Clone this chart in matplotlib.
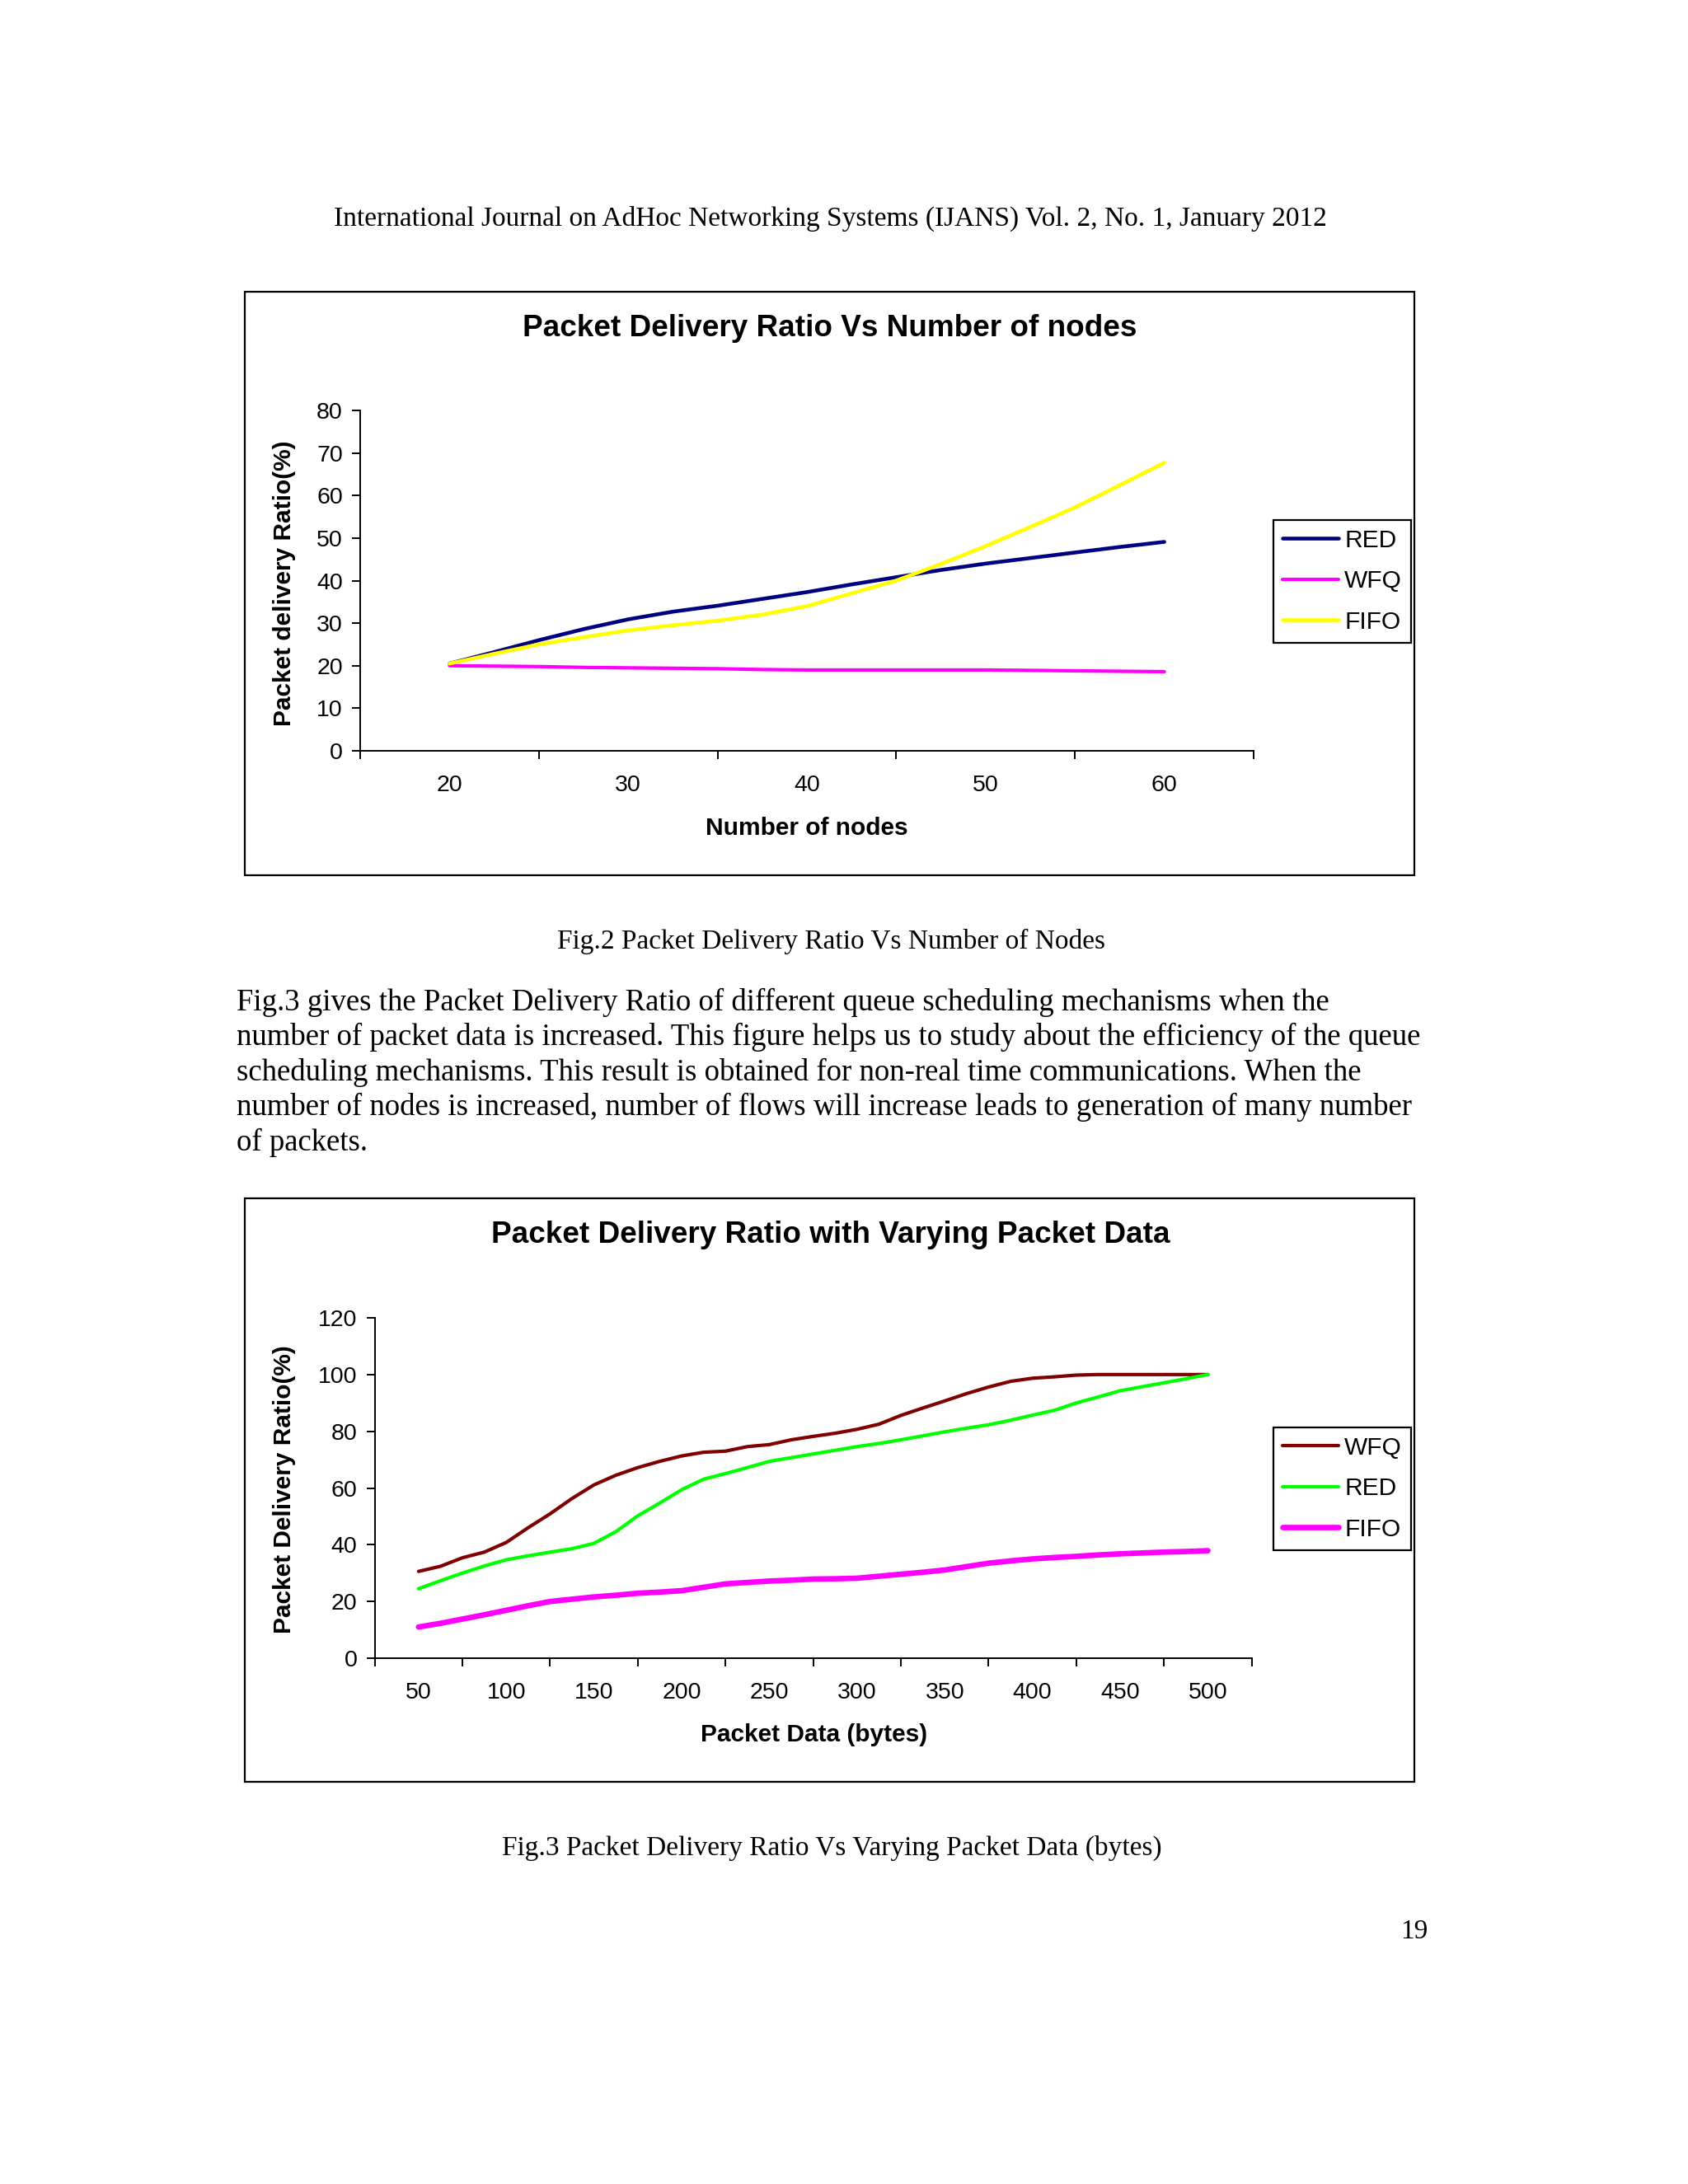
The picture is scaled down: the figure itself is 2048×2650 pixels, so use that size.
import matplotlib
matplotlib.use("Agg")
import matplotlib.pyplot as plt
from matplotlib.patches import Rectangle

# ---------------- data ----------------
# Fig.2 : Packet Delivery Ratio vs Number of nodes
nodes_labels = ["20", "30", "40", "50", "60"]
nodes_cat = [20, 30, 40, 50, 60]
nodes_x = [20, 22.5, 25, 27.5, 30, 32.5, 35, 37.5, 40, 42.5, 45, 47.5, 50, 52.5, 55, 57.5, 60]
red_nodes = [20.5, 23.2, 26.0, 28.6, 30.9, 32.7, 34.1, 35.7, 37.3, 39.1, 40.8, 42.5, 44.0, 45.3, 46.6, 47.9, 49.1]
wfq_nodes = [20.0, 19.9, 19.8, 19.6, 19.5, 19.4, 19.3, 19.1, 19.0, 19.0, 19.0, 19.0, 19.0, 18.9, 18.8, 18.7, 18.6]
fifo_nodes = [20.5, 22.8, 25.0, 26.7, 28.3, 29.5, 30.6, 32.0, 34.0, 37.0, 40.0, 43.9, 48.1, 52.6, 57.2, 62.4, 67.7]

# Fig.3 : Packet Delivery Ratio vs Packet data (bytes)
data_labels = ["50", "100", "150", "200", "250", "300", "350", "400", "450", "500"]
data_cat = [50, 100, 150, 200, 250, 300, 350, 400, 450, 500]
data_x = [50, 62.5, 75, 87.5, 100, 112.5, 125, 137.5, 150, 162.5, 175, 187.5, 200,
          212.5, 225, 237.5, 250, 262.5, 275, 287.5, 300, 312.5, 325, 337.5, 350,
          362.5, 375, 387.5, 400, 412.5, 425, 437.5, 450, 462.5, 475, 487.5, 500]
wfq_data = [30.6, 32.4, 35.4, 37.4, 40.8, 46.0, 50.9, 56.3, 61.1, 64.5, 67.2, 69.4, 71.3,
            72.6, 73.0, 74.6, 75.3, 77.0, 78.2, 79.3, 80.7, 82.5, 85.6, 88.2, 90.7,
            93.3, 95.6, 97.6, 98.7, 99.2, 99.8, 100, 100, 100, 100, 100, 100]
red_data = [24.5, 27.3, 30.0, 32.5, 34.7, 36.1, 37.4, 38.6, 40.5, 44.6, 50.2, 54.7, 59.4,
            63.1, 65.1, 67.2, 69.4, 70.7, 72.0, 73.3, 74.6, 75.7, 77.0, 78.4, 79.8,
            81.1, 82.3, 83.9, 85.7, 87.4, 90.0, 92.1, 94.3, 95.7, 97.1, 98.5, 100]
fifo_data = [11.0, 12.3, 13.8, 15.3, 16.9, 18.5, 20.0, 20.8, 21.6, 22.2, 22.9, 23.3, 23.8,
             25.0, 26.2, 26.7, 27.2, 27.5, 27.9, 28.0, 28.2, 28.9, 29.6, 30.3, 31.1,
             32.3, 33.5, 34.3, 35.0, 35.5, 35.9, 36.4, 36.8, 37.1, 37.4, 37.6, 37.9]

header = "International Journal on AdHoc Networking Systems (IJANS) Vol. 2, No. 1, January 2012"
cap2 = "Fig.2 Packet Delivery Ratio Vs Number of Nodes"
cap3 = "Fig.3 Packet Delivery Ratio Vs Varying Packet Data (bytes)"
para = [
    "Fig.3 gives the Packet Delivery Ratio of different queue scheduling mechanisms when the",
    "number of packet data is increased. This figure helps us to study about the efficiency of the queue",
    "scheduling mechanisms. This result is obtained for non-real time communications. When the",
    "number of nodes is increased, number of flows will increase leads to generation of many number",
    "of packets.",
]
page_no = "19"

# ---------------- layout helpers ----------------
W, H = 2048, 2650
fig = plt.figure(figsize=(W / 100, H / 100), dpi=100)
fig.patch.set_facecolor("white")

SERIF = "Liberation Serif"
SANS = "Liberation Sans"


def fx(x):
    return x / W


def fy(y):
    return 1 - y / H


def axes_px(left, top, right, bottom):
    return fig.add_axes([fx(left), fy(bottom), (right - left) / W, (bottom - top) / H])


def style_axes(ax, cats, labels, bounds, yticks):
    for s in ("top", "right"):
        ax.spines[s].set_visible(False)
    for s in ("left", "bottom"):
        ax.spines[s].set_linewidth(1.4)
        ax.spines[s].set_color("black")
    ax.set_xlim(bounds[0], bounds[-1])
    ax.set_xticks(bounds)
    ax.set_xticklabels([])
    ax.set_xticks(cats, minor=True)
    ax.set_xticklabels(labels, minor=True, fontfamily=SANS, fontsize=20.5)
    ax.tick_params(axis="x", which="major", direction="out", length=7.2, width=1.4)
    ax.tick_params(axis="x", which="minor", length=0, pad=21)
    ax.set_yticks(yticks)
    ax.set_yticklabels([str(v) for v in yticks], fontfamily=SANS, fontsize=20.5)
    ax.tick_params(axis="y", direction="out", length=7.2, width=1.4, pad=8)
    ax.set_facecolor("white")


def make_legend(ax, top_px):
    leg = ax.legend(loc="upper left", bbox_to_anchor=(fx(1545), fy(top_px)),
                    bbox_transform=fig.transFigure, borderaxespad=0,
                    prop={"family": SANS, "size": 21.5}, handlelength=2.3,
                    handletextpad=0.22, borderpad=0.36, labelspacing=0.72, fancybox=False,
                    frameon=True, edgecolor="black", framealpha=1)
    leg.get_frame().set_linewidth(1.6)
    return leg


# ---------------- page text ----------------
fig.text(fx(1007), fy(274), header, ha="center", va="baseline", fontfamily=SERIF, fontsize=24)
fig.text(fx(1009), fy(1151), cap2, ha="center", va="baseline", fontfamily=SERIF, fontsize=24)
for i, line in enumerate(para):
    fig.text(fx(287), fy(1226 + i * 42.4), line, ha="left", va="baseline",
             fontfamily=SERIF, fontsize=26.5)
fig.text(fx(1009), fy(2251), cap3, ha="center", va="baseline", fontfamily=SERIF, fontsize=24)
fig.text(fx(1732), fy(2352), page_no, ha="right", va="baseline", fontfamily=SERIF, fontsize=24)

# chart frames
for top in (354, 1454):
    fig.patches.append(Rectangle((fx(297), fy(top + 708)), 1419 / W, 708 / H,
                                 transform=fig.transFigure, fill=False,
                                 edgecolor="black", linewidth=1.6))

# ---------------- chart 1 ----------------
ax1 = axes_px(437, 498, 1521, 911)
lw = 3.3
ax1.plot(nodes_x, red_nodes, color="#000080", lw=lw, label="RED",
         solid_capstyle="round", solid_joinstyle="round")
ax1.plot(nodes_x, wfq_nodes, color="#FF00FF", lw=3.0, label="WFQ",
         solid_capstyle="round", solid_joinstyle="round")
ax1.plot(nodes_x, fifo_nodes, color="#FFFF00", lw=lw, label="FIFO",
         solid_capstyle="round", solid_joinstyle="round")
style_axes(ax1, nodes_cat, nodes_labels, [15, 25, 35, 45, 55, 65], list(range(0, 81, 10)))
ax1.set_ylim(0, 80)
ax1.set_xlabel("Number of nodes", fontfamily=SANS, fontweight="bold", fontsize=21.5, va="center")
ax1.xaxis.set_label_coords(fx(979), fy(1005), transform=fig.transFigure)
ax1.set_ylabel("Packet delivery Ratio(%)", fontfamily=SANS, fontweight="bold", fontsize=21.5, va="center")
ax1.yaxis.set_label_coords(fx(345), fy(708), transform=fig.transFigure)
fig.text(fx(1007), fy(398), "Packet Delivery Ratio Vs Number of nodes", ha="center", va="center",
         fontfamily=SANS, fontweight="bold", fontsize=26.6)
make_legend(ax1, 631)

# ---------------- chart 2 ----------------
ax2 = axes_px(454.6, 1599, 1518.7, 2012)
ax2.plot(data_x, wfq_data, color="#800000", lw=3.0, label="WFQ",
         solid_capstyle="round", solid_joinstyle="round")
ax2.plot(data_x, red_data, color="#00FF00", lw=3.0, label="RED",
         solid_capstyle="round", solid_joinstyle="round")
ax2.plot(data_x, fifo_data, color="#FF00FF", lw=4.8, label="FIFO",
         solid_capstyle="round", solid_joinstyle="round")
style_axes(ax2, data_cat, data_labels, [25, 75, 125, 175, 225, 275, 325, 375, 425, 475, 525],
           list(range(0, 121, 20)))
ax2.set_ylim(0, 120)
ax2.set_xlabel("Packet Data (bytes)", fontfamily=SANS, fontweight="bold", fontsize=21.5, va="center")
ax2.xaxis.set_label_coords(fx(988), fy(2105), transform=fig.transFigure)
ax2.set_ylabel("Packet Delivery Ratio(%)", fontfamily=SANS, fontweight="bold", fontsize=21.5, va="center")
ax2.yaxis.set_label_coords(fx(345), fy(1807), transform=fig.transFigure)
fig.text(fx(1008), fy(1498), "Packet Delivery Ratio with Varying Packet Data", ha="center", va="center",
         fontfamily=SANS, fontweight="bold", fontsize=26.6)
make_legend(ax2, 1732)

fig.savefig("out.png", dpi=100, facecolor="white")
